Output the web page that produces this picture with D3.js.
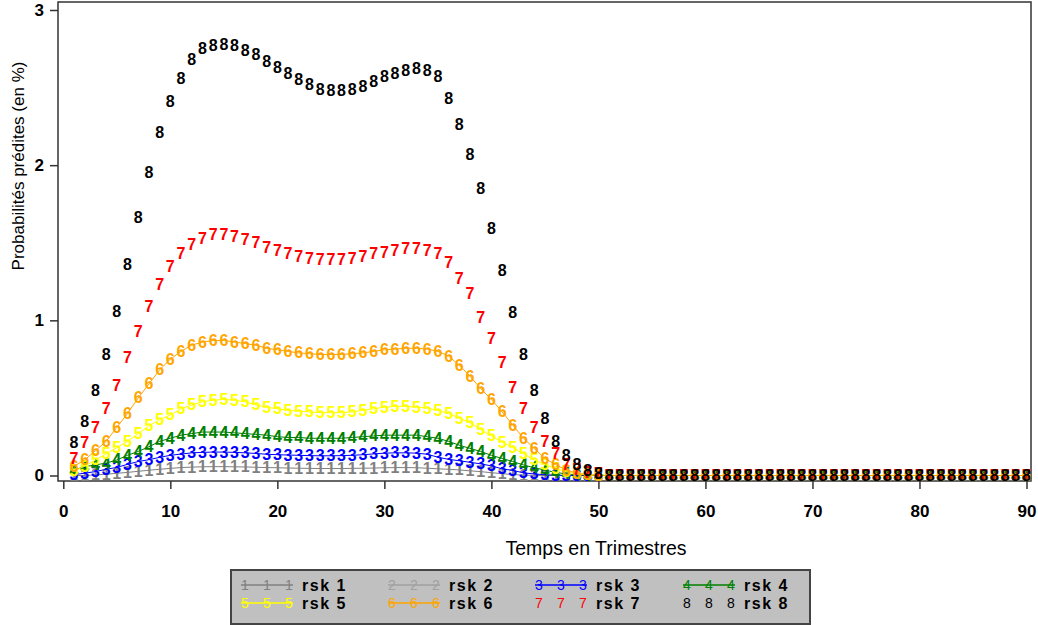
<!DOCTYPE html>
<html>
<head>
<meta charset="utf-8">
<script src="https://cdn.jsdelivr.net/npm/d3@7"></script>
<style>
  html, body { margin: 0; padding: 0; background: #fff; }
  svg { display: block; }
</style>
</head>
<body>
<svg id="chart" width="1038" height="625"></svg>
<script>
// Quarters 1..90
const quarters = d3.range(1, 91);

const xTicks = [0, 10, 20, 30, 40, 50, 60, 70, 80, 90];
const yTicks = [0, 1, 2, 3];

const seriesNames = ["rsk 1", "rsk 2", "rsk 3", "rsk 4", "rsk 5", "rsk 6", "rsk 7", "rsk 8"];
const seriesSymbols = ["1", "2", "3", "4", "5", "6", "7", "8"];
const seriesColors = ["#808080", "#a0a0a0", "#0000ff", "#008000", "#ffff00", "#ffa500", "#ff0000", "#000000"];
const seriesJoined = [true, true, true, true, true, true, false, false];

const zeros40 = [0,0,0,0,0,0,0,0,0,0, 0,0,0,0,0,0,0,0,0,0, 0,0,0,0,0,0,0,0,0,0, 0,0,0,0,0,0,0,0,0,0];

// Predicted probabilities (%) per quarter
const rsk1 = [0,0,0.004,0.008,0.014,0.02,0.027,0.034,0.04,0.046,
  0.051,0.054,0.056,0.057,0.057,0.056,0.055,0.053,0.051,0.05,
  0.048,0.047,0.046,0.045,0.045,0.045,0.046,0.047,0.048,0.05,
  0.051,0.051,0.05,0.047,0.043,0.04,0.036,0.03,0.025,0.018,
  0.012,0.006,0.002,0.001,0,0,0,0,0,0, ...zeros40];
const rsk2 = []; // no observations plotted
const rsk3 = [0.005,0.015,0.025,0.04,0.052,0.072,0.09,0.102,0.117,0.13,
  0.138,0.146,0.149,0.151,0.151,0.149,0.146,0.142,0.137,0.134,
  0.132,0.13,0.128,0.127,0.127,0.128,0.13,0.134,0.139,0.144,
  0.146,0.146,0.144,0.137,0.118,0.104,0.095,0.085,0.075,0.062,
  0.043,0.033,0.017,0.01,0.005,0.002,0,0,0,0, ...zeros40];
const rsk4 = [0.035,0.057,0.068,0.08,0.10,0.13,0.155,0.185,0.22,0.24,
  0.26,0.27,0.28,0.28,0.28,0.275,0.27,0.265,0.26,0.25,
  0.245,0.245,0.24,0.24,0.24,0.24,0.245,0.25,0.255,0.26,
  0.26,0.26,0.26,0.25,0.24,0.22,0.195,0.175,0.155,0.13,
  0.11,0.09,0.068,0.05,0.035,0.02,0.01,0.005,0.002,0.001, ...zeros40];
const rsk5 = [0.03,0.06,0.10,0.14,0.18,0.22,0.27,0.32,0.36,0.39,
  0.43,0.455,0.475,0.485,0.49,0.485,0.475,0.455,0.44,0.43,
  0.42,0.415,0.41,0.405,0.405,0.405,0.41,0.42,0.43,0.44,
  0.445,0.445,0.44,0.435,0.42,0.40,0.37,0.34,0.295,0.255,
  0.215,0.18,0.14,0.10,0.07,0.045,0.025,0.01,0.004,0.001, ...zeros40];
const rsk6 = [0.06,0.10,0.16,0.22,0.31,0.40,0.50,0.59,0.68,0.75,
  0.80,0.84,0.86,0.87,0.87,0.86,0.85,0.84,0.82,0.81,
  0.80,0.79,0.785,0.78,0.78,0.78,0.785,0.79,0.80,0.81,
  0.815,0.82,0.82,0.815,0.80,0.77,0.71,0.64,0.56,0.49,
  0.41,0.325,0.24,0.175,0.11,0.07,0.035,0.015,0.006,0.002, ...zeros40];
const rsk7 = [0.11,0.21,0.31,0.43,0.58,0.76,0.93,1.09,1.23,1.35,
  1.43,1.49,1.53,1.55,1.55,1.54,1.52,1.50,1.47,1.45,
  1.43,1.41,1.40,1.39,1.39,1.39,1.40,1.41,1.43,1.44,
  1.45,1.46,1.46,1.45,1.43,1.37,1.27,1.17,1.02,0.88,
  0.73,0.57,0.435,0.31,0.22,0.14,0.07,0.04,0.02,0.01, ...zeros40];
const rsk8 = [0.21,0.35,0.55,0.78,1.06,1.36,1.66,1.95,2.21,2.41,
  2.56,2.68,2.75,2.77,2.78,2.77,2.74,2.71,2.67,2.63,
  2.59,2.55,2.52,2.49,2.48,2.48,2.49,2.51,2.54,2.57,
  2.59,2.61,2.62,2.61,2.57,2.43,2.26,2.07,1.85,1.59,
  1.32,1.05,0.78,0.55,0.37,0.22,0.13,0.07,0.035,0.016, ...zeros40];

const seriesValues = [rsk1, rsk2, rsk3, rsk4, rsk5, rsk6, rsk7, rsk8];

const svg = d3.select("#chart");

const frame = { left: 58, top: 2, right: 1031, bottom: 481 };
const x = d3.scaleLinear().domain([0, 90]).range([63.3, 1026.5]);
const y = d3.scaleLinear().domain([0, 3]).range([475.5, 10]);

const tickFont = "'Liberation Sans', Arial, sans-serif";

// Plot frame
svg.append("rect")
  .attr("x", frame.left).attr("y", frame.top)
  .attr("width", frame.right - frame.left).attr("height", frame.bottom - frame.top)
  .attr("fill", "#fff").attr("stroke", "#333").attr("stroke-width", 1.5);

// Y axis
const yAxis = svg.append("g")
  .attr("transform", `translate(${frame.left},0)`)
  .call(d3.axisLeft(y).tickValues(yTicks).tickFormat(d3.format("d")).tickSize(8).tickPadding(6));
yAxis.select(".domain").remove();
yAxis.selectAll(".tick line").attr("stroke", "#333").attr("stroke-width", 1.5);
yAxis.selectAll(".tick text")
  .attr("font-family", tickFont).attr("font-weight", "bold").attr("font-size", 17).attr("fill", "#000");

// X axis
const xAxis = svg.append("g")
  .attr("transform", `translate(0,${frame.bottom})`)
  .call(d3.axisBottom(x).tickValues(xTicks).tickFormat(d3.format("d")).tickSize(8).tickPadding(16));
xAxis.select(".domain").remove();
xAxis.selectAll(".tick line").attr("stroke", "#333").attr("stroke-width", 1.5);
xAxis.selectAll(".tick text")
  .attr("font-family", tickFont).attr("font-weight", "bold").attr("font-size", 17).attr("fill", "#000");

// Axis titles
svg.append("text")
  .attr("x", 596).attr("y", 555)
  .attr("text-anchor", "middle")
  .attr("font-family", tickFont).attr("font-size", 19.5).attr("fill", "#000")
  .text("Temps en Trimestres");

svg.append("text")
  .attr("transform", "translate(24,166) rotate(-90)")
  .attr("text-anchor", "middle")
  .attr("font-family", tickFont).attr("font-size", 17).attr("fill", "#000")
  .text("Probabilités prédites (en %)");

// Series: connecting lines then digit markers
const plot = svg.append("g");
const line = d3.line().x(d => x(d.t)).y(d => y(d.v));

seriesValues.forEach((vals, i) => {
  const pts = vals.map((v, k) => ({ t: quarters[k], v }));
  const g = plot.append("g");
  if (seriesJoined[i] && pts.length) {
    g.append("path")
      .datum(pts)
      .attr("d", line)
      .attr("fill", "none")
      .attr("stroke", seriesColors[i])
      .attr("stroke-width", 1);
  }
  g.selectAll("text")
    .data(pts)
    .join("text")
    .attr("x", d => x(d.t))
    .attr("y", d => y(d.v))
    .attr("text-anchor", "middle")
    .attr("dominant-baseline", "central")
    .attr("font-family", tickFont)
    .attr("font-weight", "bold")
    .attr("font-size", 16)
    .attr("fill", seriesColors[i])
    .text(seriesSymbols[i]);
});

// Legend
const legend = svg.append("g");
legend.append("rect")
  .attr("x", 231).attr("y", 570).attr("width", 579).attr("height", 54)
  .attr("fill", "#c0c0c0").attr("stroke", "#444").attr("stroke-width", 2);

const colX = [241, 388, 535, 683];
const rowY = [585, 603];

seriesNames.forEach((name, i) => {
  const cx = colX[i % 4];
  const cy = rowY[Math.floor(i / 4)];
  const item = legend.append("g");
  if (seriesJoined[i]) {
    item.append("line")
      .attr("x1", cx).attr("x2", cx + 52)
      .attr("y1", cy).attr("y2", cy)
      .attr("stroke", seriesColors[i]).attr("stroke-width", 1.5);
  }
  [4, 26, 48].forEach(dx => {
    item.append("text")
      .attr("x", cx + dx).attr("y", cy)
      .attr("text-anchor", "middle")
      .attr("dominant-baseline", "central")
      .attr("font-family", tickFont)
      .attr("font-size", 14)
      .attr("fill", seriesColors[i])
      .text(seriesSymbols[i]);
  });
  item.append("text")
    .attr("x", cx + 61).attr("y", cy)
    .attr("dominant-baseline", "central")
    .attr("font-family", tickFont)
    .attr("font-weight", "bold")
    .attr("font-size", 16)
    .attr("letter-spacing", 1.5)
    .attr("fill", "#000")
    .text(name);
});
</script>
</body>
</html>
